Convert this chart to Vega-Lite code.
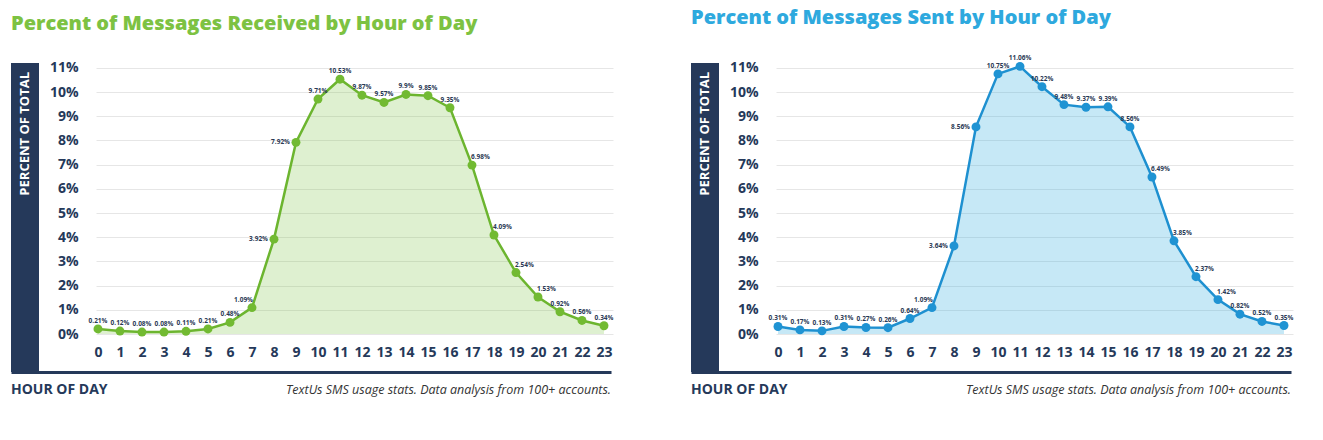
{
  "$schema": "https://vega.github.io/schema/vega-lite/v6.json",
  "padding": {"left": 11, "top": 8, "right": 5, "bottom": 5},
  "background": "white",
  "config": {"view": {"stroke": null}, "font": "Open Sans"},
  "datasets": {
    "received": [
      {"hour": 0, "pct": 0.21}, {"hour": 1, "pct": 0.12}, {"hour": 2, "pct": 0.08}, {"hour": 3, "pct": 0.08},
      {"hour": 4, "pct": 0.11}, {"hour": 5, "pct": 0.21}, {"hour": 6, "pct": 0.48}, {"hour": 7, "pct": 1.09},
      {"hour": 8, "pct": 3.92}, {"hour": 9, "pct": 7.92}, {"hour": 10, "pct": 9.71}, {"hour": 11, "pct": 10.53},
      {"hour": 12, "pct": 9.87}, {"hour": 13, "pct": 9.57}, {"hour": 14, "pct": 9.9}, {"hour": 15, "pct": 9.85},
      {"hour": 16, "pct": 9.35}, {"hour": 17, "pct": 6.98}, {"hour": 18, "pct": 4.09}, {"hour": 19, "pct": 2.54},
      {"hour": 20, "pct": 1.53}, {"hour": 21, "pct": 0.92}, {"hour": 22, "pct": 0.56}, {"hour": 23, "pct": 0.34}
    ],
    "sent": [
      {"hour": 0, "pct": 0.31}, {"hour": 1, "pct": 0.17}, {"hour": 2, "pct": 0.13}, {"hour": 3, "pct": 0.31},
      {"hour": 4, "pct": 0.27}, {"hour": 5, "pct": 0.26}, {"hour": 6, "pct": 0.64}, {"hour": 7, "pct": 1.09},
      {"hour": 8, "pct": 3.64}, {"hour": 9, "pct": 8.56}, {"hour": 10, "pct": 10.75}, {"hour": 11, "pct": 11.06},
      {"hour": 12, "pct": 10.22}, {"hour": 13, "pct": 9.48}, {"hour": 14, "pct": 9.37}, {"hour": 15, "pct": 9.39},
      {"hour": 16, "pct": 8.56}, {"hour": 17, "pct": 6.49}, {"hour": 18, "pct": 3.85}, {"hour": 19, "pct": 2.37},
      {"hour": 20, "pct": 1.42}, {"hour": 21, "pct": 0.82}, {"hour": 22, "pct": 0.52}, {"hour": 23, "pct": 0.35}
    ]
  },
  "spacing": 77,
  "hconcat": [
    {
      "title": {"text": "Percent of Messages Received by Hour of Day", "anchor": "start", "fontSize": 20, "fontWeight": 800, "color": "#7DC242", "offset": 27, "font": "Open Sans"},
      "spacing": 0,
      "vconcat": [
        {
          "spacing": 10,
          "hconcat": [
            {
              "width": 28, "height": 309,
              "view": {"fill": "#25395A", "stroke": null},
              "data": {"values": [{"label": "PERCENT OF TOTAL"}]},
              "mark": {"type": "text", "angle": 270, "align": "right", "baseline": "middle", "dx": -9, "color": "white", "fontSize": 13, "fontWeight": "bold"},
              "encoding": {"text": {"field": "label"}, "y": {"datum": 1, "type": "quantitative", "scale": {"domain": [0, 1]}, "axis": null}}
            },
            {
              "width": 517, "height": 271,
              "data": {"name": "received"},
              "transform": [{"calculate": "format(datum.pct, '.2~f') + '%'", "as": "label"}],
              "encoding": {
                "x": {"field": "hour", "type": "quantitative", "scale": {"domain": [-0.09, 23.41], "nice": false, "zero": false},
                  "axis": {"values": [0,1,2,3,4,5,6,7,8,9,10,11,12,13,14,15,16,17,18,19,20,21,22,23], "title": null, "grid": false, "domain": false, "ticks": false, "labelFontSize": 14, "labelFontWeight": "bold", "labelColor": "#25395A", "labelPadding": 11, "labelFlush": false}},
                "y": {"field": "pct", "type": "quantitative", "scale": {"domain": [0, 11.2], "nice": false},
                  "axis": {"values": [0,1,2,3,4,5,6,7,8,9,10,11], "labelExpr": "datum.value + '%'", "title": null, "domain": false, "ticks": false, "gridColor": "#E6E6E6", "labelFontSize": 14, "labelFontWeight": "bold", "labelColor": "#25395A", "labelPadding": 18}}
              },
              "layer": [
                {"mark": {"type": "area", "color": "#7DC242", "fillOpacity": 0.25, "line": {"color": "#6CB52F", "strokeWidth": 2.5}, "point": {"color": "#72BA32", "filled": true, "size": 80, "opacity": 1}}},
                {"transform": [{"filter": "datum.hour <= 6 || (datum.hour >= 10 && datum.hour <= 16) || datum.hour >= 21"}],
                  "mark": {"type": "text", "align": "center", "baseline": "bottom", "dy": -5, "fontSize": 6.5, "fontWeight": "bold", "color": "#2B3A55"}, "encoding": {"text": {"field": "label"}}},
                {"transform": [{"filter": "datum.hour == 7"}],
                  "mark": {"type": "text", "align": "right", "baseline": "bottom", "dx": 1, "dy": -5, "fontSize": 6.5, "fontWeight": "bold", "color": "#2B3A55"}, "encoding": {"text": {"field": "label"}}},
                {"transform": [{"filter": "datum.hour == 8 || datum.hour == 9"}],
                  "mark": {"type": "text", "align": "right", "baseline": "middle", "dx": -6, "fontSize": 6.5, "fontWeight": "bold", "color": "#2B3A55"}, "encoding": {"text": {"field": "label"}}},
                {"transform": [{"filter": "datum.hour >= 17 && datum.hour <= 20"}],
                  "mark": {"type": "text", "align": "left", "baseline": "bottom", "dx": -1, "dy": -5, "fontSize": 6.5, "fontWeight": "bold", "color": "#2B3A55"}, "encoding": {"text": {"field": "label"}}}
              ]
            }
          ]
        },
        {
          "width": 600, "height": 36,
          "layer": [
            {
              "data": {"values": [{"label": "HOUR OF DAY"}]},
              "mark": {"type": "text", "align": "left", "fontSize": 14, "fontWeight": "bold", "color": "#25395A"},
              "encoding": {"text": {"field": "label"}, "x": {"datum": 0, "type": "quantitative", "scale": {"domain": [0, 1], "nice": false}, "axis": {"orient": "top", "labels": false, "ticks": false, "grid": false, "title": null, "domainColor": "#25395A", "domainWidth": 3}}}
            },
            {
              "data": {"values": [{"label": "TextUs SMS usage stats. Data analysis from 100+ accounts."}]},
              "mark": {"type": "text", "align": "right", "fontSize": 12.5, "fontStyle": "italic", "color": "#333333"},
              "encoding": {"text": {"field": "label"}, "x": {"datum": 1, "type": "quantitative"}}
            }
          ]
        }
      ]
    },
    {
      "title": {"text": "Percent of Messages Sent by Hour of Day", "anchor": "start", "fontSize": 20, "fontWeight": 800, "color": "#2EA9DE", "offset": 27, "font": "Open Sans"},
      "spacing": 0,
      "vconcat": [
        {
          "spacing": 10,
          "hconcat": [
            {
              "width": 28, "height": 309,
              "view": {"fill": "#25395A", "stroke": null},
              "data": {"values": [{"label": "PERCENT OF TOTAL"}]},
              "mark": {"type": "text", "angle": 270, "align": "right", "baseline": "middle", "dx": -9, "color": "white", "fontSize": 13, "fontWeight": "bold"},
              "encoding": {"text": {"field": "label"}, "y": {"datum": 1, "type": "quantitative", "scale": {"domain": [0, 1]}, "axis": null}}
            },
            {
              "width": 517, "height": 271,
              "data": {"name": "sent"},
              "transform": [{"calculate": "format(datum.pct, '.2~f') + '%'", "as": "label"}],
              "encoding": {
                "x": {"field": "hour", "type": "quantitative", "scale": {"domain": [-0.09, 23.41], "nice": false, "zero": false},
                  "axis": {"values": [0,1,2,3,4,5,6,7,8,9,10,11,12,13,14,15,16,17,18,19,20,21,22,23], "title": null, "grid": false, "domain": false, "ticks": false, "labelFontSize": 14, "labelFontWeight": "bold", "labelColor": "#25395A", "labelPadding": 11, "labelFlush": false}},
                "y": {"field": "pct", "type": "quantitative", "scale": {"domain": [0, 11.2], "nice": false},
                  "axis": {"values": [0,1,2,3,4,5,6,7,8,9,10,11], "labelExpr": "datum.value + '%'", "title": null, "domain": false, "ticks": false, "gridColor": "#E6E6E6", "labelFontSize": 14, "labelFontWeight": "bold", "labelColor": "#25395A", "labelPadding": 18}}
              },
              "layer": [
                {"mark": {"type": "area", "color": "#2EA9DE", "fillOpacity": 0.27, "line": {"color": "#1E90D0", "strokeWidth": 2.5}, "point": {"color": "#1F93D3", "filled": true, "size": 80, "opacity": 1}}},
                {"transform": [{"filter": "datum.hour <= 6 || (datum.hour >= 10 && datum.hour <= 16) || datum.hour >= 21"}],
                  "mark": {"type": "text", "align": "center", "baseline": "bottom", "dy": -5, "fontSize": 6.5, "fontWeight": "bold", "color": "#2B3A55"}, "encoding": {"text": {"field": "label"}}},
                {"transform": [{"filter": "datum.hour == 7"}],
                  "mark": {"type": "text", "align": "right", "baseline": "bottom", "dx": 1, "dy": -5, "fontSize": 6.5, "fontWeight": "bold", "color": "#2B3A55"}, "encoding": {"text": {"field": "label"}}},
                {"transform": [{"filter": "datum.hour == 8 || datum.hour == 9"}],
                  "mark": {"type": "text", "align": "right", "baseline": "middle", "dx": -6, "fontSize": 6.5, "fontWeight": "bold", "color": "#2B3A55"}, "encoding": {"text": {"field": "label"}}},
                {"transform": [{"filter": "datum.hour >= 17 && datum.hour <= 20"}],
                  "mark": {"type": "text", "align": "left", "baseline": "bottom", "dx": -1, "dy": -5, "fontSize": 6.5, "fontWeight": "bold", "color": "#2B3A55"}, "encoding": {"text": {"field": "label"}}}
              ]
            }
          ]
        },
        {
          "width": 600, "height": 36,
          "layer": [
            {
              "data": {"values": [{"label": "HOUR OF DAY"}]},
              "mark": {"type": "text", "align": "left", "fontSize": 14, "fontWeight": "bold", "color": "#25395A"},
              "encoding": {"text": {"field": "label"}, "x": {"datum": 0, "type": "quantitative", "scale": {"domain": [0, 1], "nice": false}, "axis": {"orient": "top", "labels": false, "ticks": false, "grid": false, "title": null, "domainColor": "#25395A", "domainWidth": 3}}}
            },
            {
              "data": {"values": [{"label": "TextUs SMS usage stats. Data analysis from 100+ accounts."}]},
              "mark": {"type": "text", "align": "right", "fontSize": 12.5, "fontStyle": "italic", "color": "#333333"},
              "encoding": {"text": {"field": "label"}, "x": {"datum": 1, "type": "quantitative"}}
            }
          ]
        }
      ]
    }
  ]
}
